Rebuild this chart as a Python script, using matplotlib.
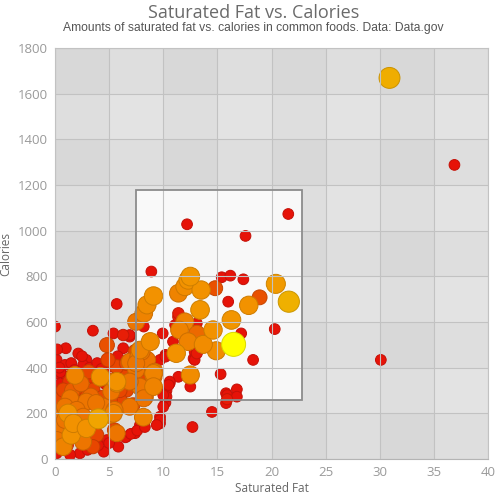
import matplotlib
matplotlib.use("Agg")
import matplotlib.pyplot as plt
import numpy as np
from matplotlib.colors import LinearSegmentedColormap

# saturated fat (g), calories, bubble value (0..1 -> size and colour)
sat_fat = [30.9, 36.9, 30.1, 21.55, 17.6, 12.2, 8.9, 12.5, 12.3, 11.4, 12.0, 13.5, 14.8, 15.4,
           16.2, 17.4, 20.4, 18.9, 17.9, 21.6, 16.0, 9.1, 8.5, 8.2, 7.5, 13.4, 16.3, 12.0, 11.4,
           11.5, 13.1, 14.6, 16.5, 14.9, 13.7, 12.3, 11.2, 8.8, 7.85, 17.2, 20.3, 18.3, 15.3, 12.5,
           16.8, 15.8, 15.9, 9.95, 10.2, 9.1, 9.1, 13.1, 12.8, 8.3, 10.6, 10.3, 6.9, 12.7, 14.5,
           9.7, 10.2, 8.16, 5.7, 3.5, 0.0, 1.0, 2.15, 2.9, 4.8, 5.4, 6.3, 1.85, 4.2, 5.7, 4.0,
           5.4, 1.4, 1.5, 0.77,
           15.9, 16.8, 15.8, 9.7, 6.9, 6.3, 8.2, 9.7, 10.2, 10.9, 11.1, 11.4, 13.1, 12.9, 12.9,
           12.5, 11.4, 10.6, 10.3, 10.0, 9.1, 7.7, 6.6, 7.5, 6.3, 7.85, 6.6, 8.2, 7.2, 8.5, 8.0,
           6.9, 7.4, 9.2, 8.2, 8.0, 6.9, 5.7, 5.7, 6.6, 7.5, 10.5, 10.0, 8.2, 6.0, 6.9, 7.85,
           7.4, 9.7, 9.4, 5.7, 6.6, 5.85,
           0.15, 0.15, 0.15, 0.15, 0.15, 0.15, 0.15, 0.15, 0.92, 1.08, 0.77, 0.92, 0.92, 2.6,
           3.1, 2.6, 3.5, 2.3, 2.9, 2.0, 1.2, 2.6, 1.7, 2.9, 5.1, 4.5, 4.2, 4.9, 5.0, 5.4, 5.2,
           5.1, 2.6, 3.85, 3.5, 4.8, 4.5, 2.3, 1.4, 5.5, 5.5,
           6.5, 7.0, 7.6, 8.3, 3.0, 4.0, 5.0, 1.8, 3.3, 4.4, 6.0, 3.8, 2.4, 0.5, 1.6, 3.2,
           0.4, 0.5, 0.3, 1.5, 1.8, 2.5, 3.2, 3.9, 4.3, 5.8, 6.2, 0.6, 0.3, 1.2, 2.8, 3.6,
           1.3, 2.1, 3.4, 4.6, 0.2, 0.9]
calories = [1669, 1288, 434, 1073, 977, 1028, 821, 799, 784, 726, 755, 740, 748, 796,
            803, 787, 767, 708, 673, 689, 689, 714, 675, 638, 601, 653, 609, 601, 623,
            565, 550, 565, 502, 474, 502, 514, 463, 514, 477, 550, 569, 434, 372, 368,
            305, 288, 262, 550, 456, 375, 317, 463, 440, 273, 332, 300, 426, 140, 206,
            156, 247, 183, 679, 562, 580, 485, 462, 434, 499, 550, 543, 366, 353, 331, 176,
            200, 266, 105, 54,
            280, 273, 245, 185, 536, 485, 580, 434, 448, 514, 587, 638, 594, 470, 434,
            317, 360, 339, 273, 229, 360, 448, 390, 390, 353, 317, 302, 266, 237, 434, 470,
            543, 470, 382, 390, 339, 339, 339, 404, 419, 419, 324, 280, 258, 258, 229, 149,
            113, 171, 149, 113, 98, 54,
            434, 375, 317, 258, 200, 142, 83, 25, 412, 360, 302, 229, 171, 412,
            382, 339, 302, 288, 251, 215, 200, 185, 156, 134, 193, 229, 360, 434, 404, 346, 295,
            258, 76, 105, 54, 83, 32, 25, 18, 127, 215,
            95, 110, 125, 140, 40, 60, 70, 300, 275, 270, 300, 245, 330, 380, 300, 380,
            400, 330, 270, 420, 390, 450, 400, 420, 395, 450, 410, 180, 120, 60, 80, 120,
            340, 360, 360, 330, 480, 250]
bubble = [0.78, 0.05, 0.05, 0.05, 0.05, 0.05, 0.05, 0.62, 0.6, 0.55, 0.58, 0.6, 0.35, 0.05,
          0.05, 0.05, 0.65, 0.35, 0.6, 0.8, 0.05, 0.6, 0.58, 0.55, 0.5, 0.62, 0.62, 0.55, 0.1,
          0.55, 0.45, 0.6, 1.0, 0.58, 0.58, 0.55, 0.6, 0.58, 0.55, 0.05, 0.05, 0.05, 0.05, 0.58,
          0.05, 0.05, 0.08, 0.05, 0.05, 0.55, 0.55, 0.08, 0.05, 0.5, 0.05, 0.05, 0.5, 0.05, 0.05,
          0.05, 0.05, 0.55, 0.05, 0.05, 0.05, 0.05, 0.05, 0.05, 0.35, 0.05, 0.1, 0.55, 0.4, 0.55, 0.72,
          0.55, 0.5, 0.6, 0.55,
          0.05, 0.05, 0.05, 0.05, 0.05, 0.05, 0.05, 0.05, 0.05, 0.05, 0.05, 0.1, 0.05, 0.05, 0.05,
          0.05, 0.05, 0.05, 0.05, 0.05, 0.5, 0.5, 0.3, 0.5, 0.05, 0.5, 0.3, 0.5, 0.3, 0.5, 0.5,
          0.05, 0.3, 0.5, 0.3, 0.3, 0.5, 0.6, 0.3, 0.3, 0.5, 0.05, 0.05, 0.05, 0.3, 0.5, 0.05,
          0.05, 0.05, 0.05, 0.5, 0.05, 0.05,
          0.05, 0.05, 0.05, 0.3, 0.5, 0.5, 0.5, 0.05, 0.05, 0.05, 0.3, 0.5, 0.5, 0.05,
          0.3, 0.05, 0.3, 0.3, 0.5, 0.5, 0.6, 0.5, 0.6, 0.6, 0.5, 0.5, 0.6, 0.3, 0.05, 0.3, 0.5,
          0.3, 0.5, 0.3, 0.3, 0.05, 0.05, 0.05, 0.05, 0.3, 0.5,
          0.05, 0.05, 0.05, 0.05, 0.05, 0.05, 0.05, 0.3, 0.45, 0.3, 0.3, 0.5, 0.45, 0.05, 0.4, 0.05,
          0.05, 0.05, 0.05, 0.05, 0.05, 0.05, 0.05, 0.05, 0.05, 0.05, 0.05, 0.05, 0.05, 0.05, 0.05, 0.05,
          0.2, 0.05, 0.2, 0.05, 0.05, 0.2]

sat_fat = np.array(sat_fat)
calories = np.array(calories)
bubble = np.array(bubble)

cmap = LinearSegmentedColormap.from_list("fat", [
    (0.0, "#e60a0a"), (0.3, "#e84600"), (0.5, "#ed7400"),
    (0.6, "#f29200"), (0.8, "#efb000"), (1.0, "#ffff00")])

order = np.argsort(bubble, kind="stable")
diam_px = 10 + 14 * bubble
sizes = (diam_px * 0.72) ** 2
face = cmap(bubble)
edge = face.copy()
edge[:, :3] = edge[:, :3] * 0.85

fig = plt.figure(figsize=(4.97, 4.96), dpi=100)
ax = fig.add_axes([55 / 497, 37 / 496, 433 / 497, 411 / 496])
ax.set_facecolor("#d8d8d8")

# checkered background bands
for i, x0 in enumerate(range(0, 40, 5)):
    if i % 2 == 1:
        ax.axvspan(x0, x0 + 5, color="white", alpha=0.16, lw=0, zorder=0)
for j, y0 in enumerate(range(0, 1800, 200)):
    if j % 2 == 1:
        ax.axhspan(y0, y0 + 200, color="white", alpha=0.16, lw=0, zorder=0)

# selection brush
sel = plt.Rectangle((7.5, 260), 15.3, 920, facecolor="white", alpha=0.8,
                    edgecolor="none", zorder=0.5)
ax.add_patch(sel)
ax.add_patch(plt.Rectangle((7.5, 260), 15.3, 920, facecolor="none",
                           edgecolor="#8c8c8c", lw=1.3, zorder=3))

ax.set_axisbelow(False)
ax.grid(True, color="#c2c2c2", lw=0.8, zorder=1)

ax.scatter(sat_fat[order], calories[order], s=sizes[order], c=face[order],
           edgecolors=edge[order], linewidths=0.7, zorder=2)

ax.set_xlim(0, 40)
ax.set_ylim(0, 1800)
ax.set_xticks(np.arange(0, 41, 5))
ax.set_yticks(np.arange(0, 1801, 200))
ax.tick_params(length=0, labelsize=9.5, colors="#9a9a9a", pad=5)
for lab in ax.get_xticklabels() + ax.get_yticklabels():
    lab.set_family("Open Sans")
for sp in ax.spines.values():
    sp.set_color("#c2c2c2")
    sp.set_linewidth(0.8)
ax.spines["bottom"].set_color("#b4b4b4")

ax.set_xlabel("Saturated Fat", fontsize=8.5, color="#666666", family="Open Sans", labelpad=2)
ax.set_ylabel("Calories", fontsize=8.5, color="#666666", family="Open Sans", labelpad=4)

fig.text(0.51, 0.974, "Saturated Fat vs. Calories", ha="center", va="center",
         fontsize=13, color="#6a6a6a", family="Open Sans")
fig.text(0.51, 0.944, "Amounts of saturated fat vs. calories in common foods. Data: Data.gov",
         ha="center", va="center", fontsize=8.7, color="#555555", family="Liberation Sans")

fig.savefig("out.png", dpi=100)
